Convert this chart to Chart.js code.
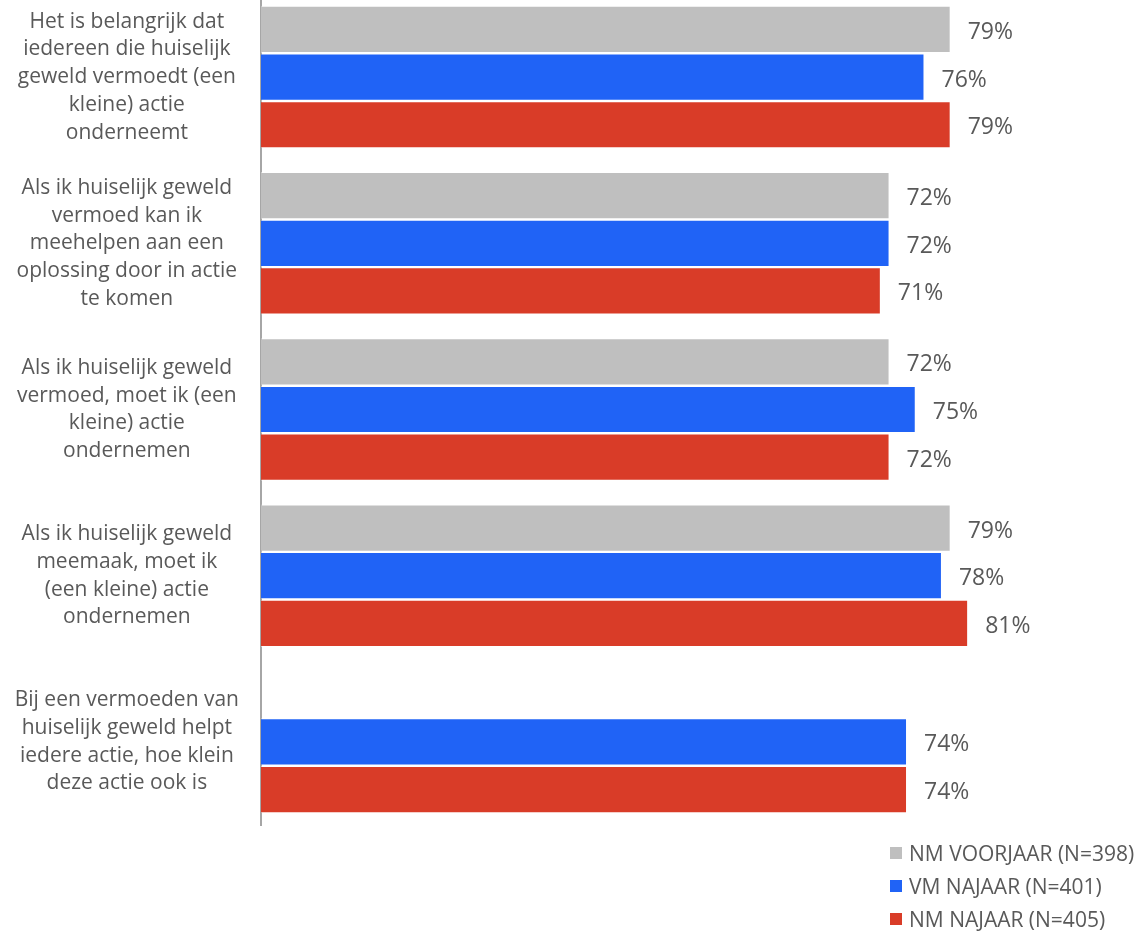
<!DOCTYPE html>
<html lang="nl">
<head>
<meta charset="utf-8">
<title>Huiselijk geweld - actie ondernemen</title>
<script src="https://cdn.jsdelivr.net/npm/chart.js@4.4.1/dist/chart.umd.min.js"></script>
<style>
    html, body {
        margin: 0;
        padding: 0;
        background: #ffffff;
        font-family: 'Open Sans', sans-serif;
    }
    .chart-wrap {
        position: relative;
        width: 1140px;
        height: 934px;
        overflow: hidden;
    }
    #actieChart {
        position: absolute;
        left: 0;
        top: -6px;
    }
    #legend {
        position: absolute;
        left: 890px;
        top: 836px;
        font-size: 21px;
        color: #595959;
    }
    #legend .item {
        display: flex;
        align-items: center;
        height: 33.3px;
        white-space: nowrap;
    }
    #legend .swatch {
        width: 12px;
        height: 12px;
        margin-right: 7px;
    }
</style>
</head>
<body>
<div class="chart-wrap">
    <canvas id="actieChart" width="1140" height="940"></canvas>
    <div id="legend"></div>
</div>
<script>
const categories = [
    ['Het is belangrijk dat', 'iedereen die huiselijk', 'geweld vermoedt (een', 'kleine) actie', 'onderneemt'],
    ['Als ik huiselijk geweld', 'vermoed kan ik', 'meehelpen aan een', 'oplossing door in actie', 'te komen'],
    ['Als ik huiselijk geweld', 'vermoed, moet ik (een', 'kleine) actie', 'ondernemen'],
    ['Als ik huiselijk geweld', 'meemaak, moet ik', '(een kleine) actie', 'ondernemen'],
    ['Bij een vermoeden van', 'huiselijk geweld helpt', 'iedere actie, hoe klein', 'deze actie ook is']
];

const seriesNames = ['NM VOORJAAR (N=398)', 'VM NAJAAR (N=401)', 'NM NAJAAR (N=405)'];
const seriesColors = ['#bfbfbf', '#2063f6', '#d93c28'];

const nmVoorjaar = [79, 72, 72, 79, null];
const vmNajaar = [76, 72, 75, 78, 74];
const nmNajaar = [79, 71, 72, 81, 74];

const textColor = '#595959';

// percentage after each bar
const valueLabels = {
    id: 'valueLabels',
    afterDatasetsDraw(chart) {
        const ctx = chart.ctx;
        ctx.save();
        ctx.font = '23px "Open Sans"';
        ctx.fillStyle = textColor;
        ctx.textAlign = 'left';
        ctx.textBaseline = 'middle';
        chart.data.datasets.forEach((ds, i) => {
            const meta = chart.getDatasetMeta(i);
            meta.data.forEach((bar, j) => {
                const v = ds.data[j];
                if (v === null || v === undefined) return;
                ctx.fillText(v + '%', bar.x + 17, bar.y + 3);
            });
        });
        ctx.restore();
    }
};

const ctx = document.getElementById('actieChart');

const chart = new Chart(ctx, {
    type: 'bar',
    data: {
        labels: categories,
        datasets: [nmVoorjaar, vmNajaar, nmNajaar].map((values, i) => ({
            label: seriesNames[i],
            data: values,
            backgroundColor: seriesColors[i],
            borderColor: 'rgba(255,255,255,0.45)',
            borderWidth: 1,
            categoryPercentage: 0.86,
            barPercentage: 0.99
        }))
    },
    options: {
        indexAxis: 'y',
        responsive: false,
        animation: false,
        layout: {
            padding: { top: 0, right: 6, bottom: 109, left: 0 }
        },
        plugins: {
            legend: { display: false },
            tooltip: { enabled: false }
        },
        scales: {
            x: {
                display: false,
                min: 0,
                max: 100
            },
            y: {
                grid: { display: false, drawTicks: false },
                border: { display: true, color: '#a6a6a6', width: 2 },
                afterFit: (scale) => {
                    // fixed label column, no extra room for the multi-line labels
                    scale.width = 261;
                    scale.paddingTop = 0;
                    scale.paddingBottom = 0;
                },
                ticks: {
                    crossAlign: 'center',
                    padding: 22,
                    color: textColor,
                    font: { family: 'Open Sans', size: 21, lineHeight: 1.32 }
                }
            }
        }
    },
    plugins: [valueLabels]
});

// legend stacked under the bars
const legendEl = document.getElementById('legend');
chart.data.datasets.forEach(ds => {
    const item = document.createElement('div');
    item.className = 'item';
    item.innerHTML = `<span class="swatch" style="background:${ds.backgroundColor}"></span><span>${ds.label}</span>`;
    legendEl.appendChild(item);
});
</script>
</body>
</html>
